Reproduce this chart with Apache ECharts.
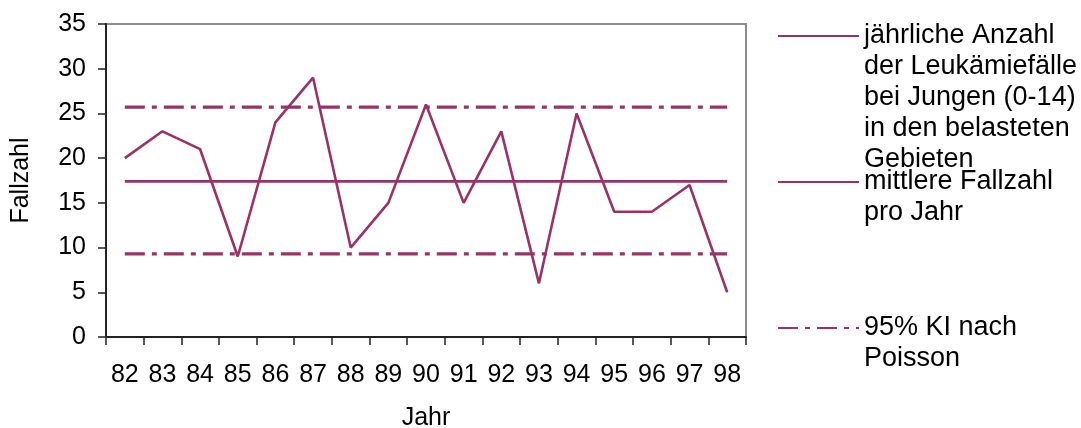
<!DOCTYPE html>
<html>
<head>
<meta charset="utf-8">
<script src="https://cdn.jsdelivr.net/npm/echarts@6/dist/echarts.min.js"></script>
<style>html,body{margin:0;padding:0;background:#fff}#c{width:1081px;height:428px}</style>
</head>
<body>
<div id="c"></div>
<script>
const years = ['82','83','84','85','86','87','88','89','90','91','92','93','94','95','96','97','98'];
const cases = [20, 23, 21, 9, 24, 29, 10, 15, 26, 15, 23, 6, 25, 14, 14, 17, 5];
const meanValue = 17.4;
const kiUpper = 25.7;
const kiLower = 9.3;
const yTicks = [0, 5, 10, 15, 20, 25, 30, 35];
const seriesNames = [
  'jährliche Anzahl\nder Leukämiefälle\nbei Jungen (0-14)\nin den belasteten\nGebieten',
  'mittlere Fallzahl\npro Jahr',
  '95% KI nach\nPoisson'
];

const color = '#993366';
const font = 'Arial, "Liberation Sans", sans-serif';
const meanLine = years.map(() => meanValue);
const upperLine = years.map(() => kiUpper);
const lowerLine = years.map(() => kiLower);
const dashDot = [20, 7, 5, 7];

function legendAt(name, iconY) {
  const lh = 31;
  const lines = name.split('\n').length;
  const total = 2 * lines - 1;
  const boxH = total * lh;
  return {
    data: [name],
    orient: 'vertical',
    left: 777,
    top: iconY - boxH / 2,
    itemWidth: 81,
    itemHeight: 14,
    selectedMode: false,
    padding: 0,
    itemStyle: {opacity: 0},
    formatter: n => '\n'.repeat(lines - 1) + n,
    textStyle: {fontFamily: font, fontSize: 27, color: '#000', lineHeight: lh}
  };
}

const chart = echarts.init(document.getElementById('c'), null, {renderer: 'canvas'});
chart.setOption({
  animation: false,
  backgroundColor: '#fff',
  grid: {
    left: 106, right: 335, top: 24, bottom: 91,
    outerBoundsMode: 'none', containLabel: false,
    show: true, borderColor: '#8c8c8c', borderWidth: 2, backgroundColor: 'transparent'
  },
  legend: [
    legendAt(seriesNames[0], 36),
    legendAt(seriesNames[1], 182),
    legendAt(seriesNames[2], 328)
  ],
  xAxis: {
    type: 'category',
    data: years,
    boundaryGap: true,
    name: 'Jahr',
    nameLocation: 'middle',
    nameGap: 69,
    nameTextStyle: {fontFamily: font, fontSize: 25, color: '#000'},
    axisLine: {lineStyle: {color: '#222', width: 2}},
    axisTick: {show: true, length: 8, inside: false, lineStyle: {color: '#222', width: 1.5}},
    axisLabel: {fontFamily: font, fontSize: 25, color: '#000', margin: 26, interval: 0},
    splitLine: {show: false}
  },
  yAxis: {
    type: 'value',
    min: yTicks[0],
    max: yTicks[yTicks.length - 1],
    interval: yTicks[1] - yTicks[0],
    name: 'Fallzahl',
    nameLocation: 'middle',
    nameGap: 72,
    nameRotate: 90,
    nameTextStyle: {fontFamily: font, fontSize: 25, color: '#000'},
    axisLine: {show: true, lineStyle: {color: '#222', width: 2}},
    axisTick: {show: true, length: 8, lineStyle: {color: '#222', width: 1.5}},
    axisLabel: {fontFamily: font, fontSize: 25, color: '#000', margin: 20},
    splitLine: {show: false}
  },
  series: [
    {
      name: seriesNames[0], type: 'line', data: cases,
      showSymbol: false, symbol: 'none',
      lineStyle: {color: color, width: 2.6}, itemStyle: {color: color}, z: 5
    },
    {
      name: seriesNames[1], type: 'line', data: meanLine,
      showSymbol: false, symbol: 'none',
      lineStyle: {color: color, width: 2.6}, itemStyle: {color: color}, z: 3
    },
    {
      name: seriesNames[2], type: 'line', data: upperLine,
      showSymbol: false, symbol: 'none',
      lineStyle: {color: color, width: 3.2, type: dashDot}, itemStyle: {color: color}, z: 3
    },
    {
      name: seriesNames[2], type: 'line', data: lowerLine,
      showSymbol: false, symbol: 'none',
      lineStyle: {color: color, width: 3.2, type: dashDot}, itemStyle: {color: color}, z: 3
    }
  ]
});
</script>
</body>
</html>
